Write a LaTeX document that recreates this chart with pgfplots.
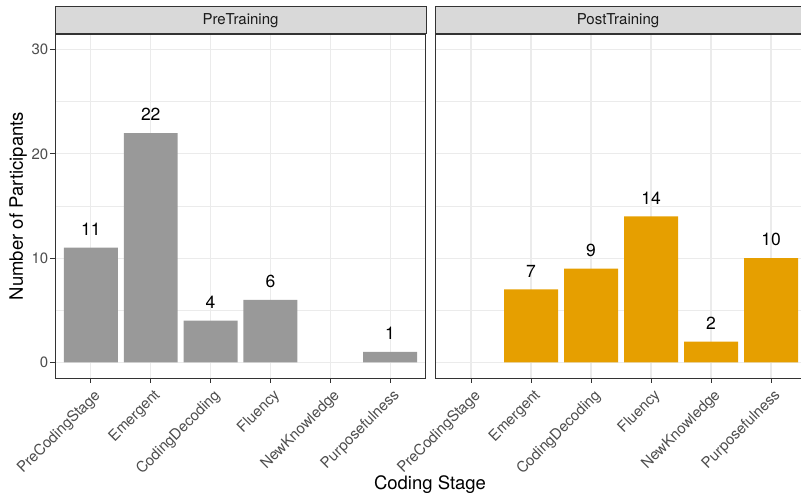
\documentclass[border=0pt]{standalone}
\usepackage{pgfplots}
\pgfplotsset{compat=1.18}
\usepackage{fontspec}
\setmainfont{TeX Gyre Heros}
\definecolor{gridc}{HTML}{EBEBEB}
\definecolor{tickc}{HTML}{4D4D4D}
\definecolor{framec}{HTML}{333333}
\definecolor{stripc}{HTML}{D9D9D9}
\definecolor{stript}{HTML}{1A1A1A}
\definecolor{preC}{HTML}{999999}
\definecolor{postC}{HTML}{E69F00}
\pgfplotsset{
 panel/.style={
  scale only axis, height=344pt,
  ymin=-1.5, ymax=31.5, xmin=-0.6,
  ytick={0,10,20,30}, minor ytick={5,15,25},
  xtick={0,...,5},
  xticklabels={PreCodingStage,Emergent,CodingDecoding,Fluency,NewKnowledge,Purposefulness},
  xmajorgrids, ymajorgrids, yminorgrids,
  major grid style={gridc, line width=1.1pt},
  minor grid style={gridc, line width=0.6pt},
  axis line style={framec, line width=1pt},
  tick align=outside, major tick length=4.5pt, minor tick length=0pt,
  xtick pos=left, ytick pos=left,
  every tick/.style={framec, line width=1pt},
  tick label style={font=\fontsize{15}{17}\selectfont, color=tickc},
  xticklabel style={xshift=2pt, yshift=-3.5pt, rotate=45, anchor=north east, inner sep=1.5pt},
  yticklabel style={inner sep=2pt},
  /pgf/number format/assume math mode=true,
  ybar, bar width=0.9,
  nodes near coords,
  nodes near coords style={font=\fontsize{17.5}{20}\selectfont, text=black, anchor=south, inner sep=0pt, yshift=12pt},
 }
}
\begin{document}
\begin{tikzpicture}
\useasboundingbox (0,0) rectangle (801pt,496pt);
\begin{axis}[panel, at={(55pt,118pt)}, anchor=south west, width=371pt, xmax=5.6]
\addplot[fill=preC, draw=none] coordinates {(0,11) (1,22) (2,4) (3,6) (5,1)};
\end{axis}
\begin{axis}[panel, at={(435pt,118pt)}, anchor=south west, width=366pt, xmax=5.5,
  yticklabels={}, ytick style={draw=none}]
\addplot[fill=postC, draw=none] coordinates {(1,7) (2,9) (3,14) (4,2) (5,10)};
\end{axis}
\draw[framec, fill=stripc, line width=1pt] (55pt,462pt) rectangle (426pt,489pt);
\draw[framec, fill=stripc, line width=1pt] (435pt,462pt) rectangle (801pt,489pt);
\node[text=stript, font=\fontsize{15}{17}\selectfont] at (240.5pt,475.5pt) {PreTraining};
\node[text=stript, font=\fontsize{15}{17}\selectfont] at (618pt,475.5pt) {PostTraining};
\node[rotate=90, anchor=base, font=\fontsize{18.5}{20}\selectfont] at (23pt,290pt) {Number of Participants};
\node[anchor=base, font=\fontsize{18.5}{20}\selectfont] at (430pt,7pt) {Coding Stage};
\end{tikzpicture}
\end{document}
